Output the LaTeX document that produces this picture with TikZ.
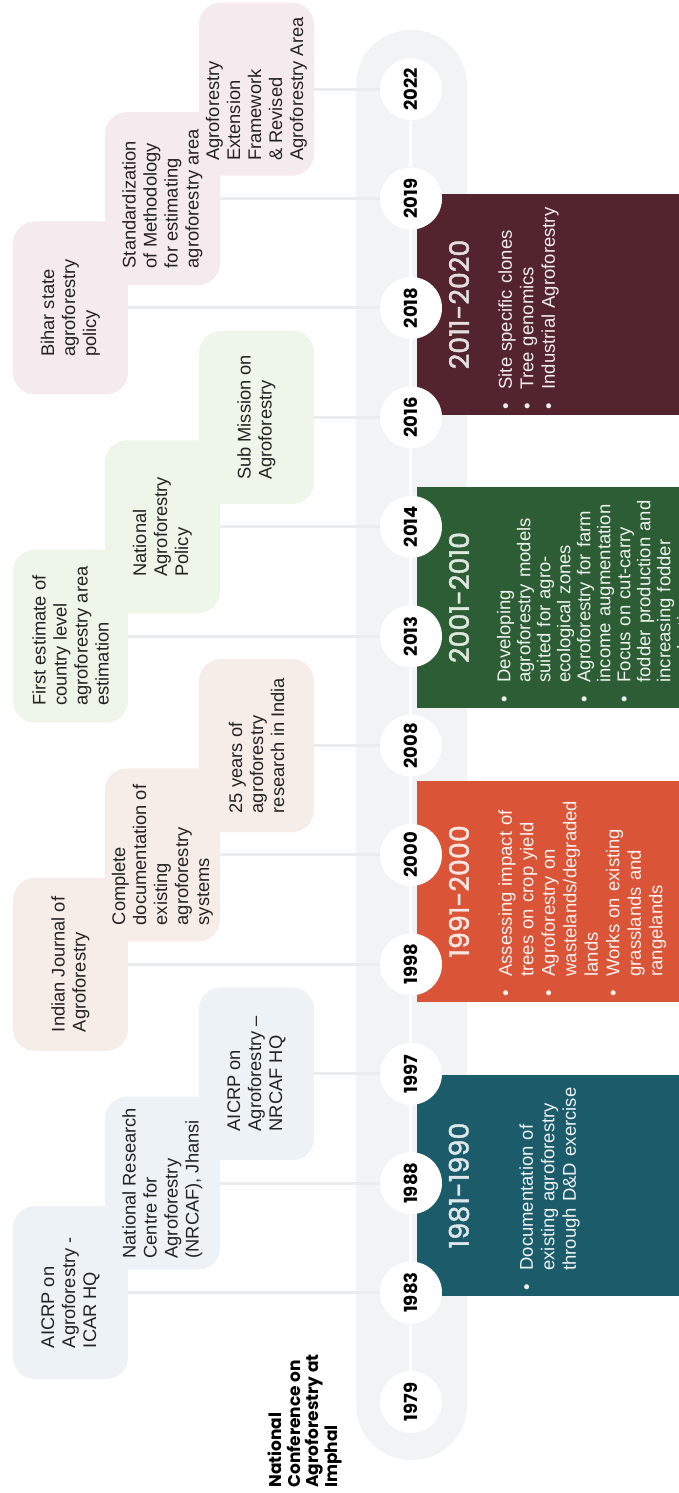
\documentclass[tikz,border=0pt]{standalone}
\usepackage{fontspec}
\setmainfont{Liberation Sans}
\newfontfamily\headfont{Poppins}
\newfontfamily\decadefont[FakeBold=1.6]{Poppins}
\usepackage{enumitem}
\usepackage{tikz}
\definecolor{trackGray}{RGB}{241, 243, 244}
\definecolor{linkGray}{RGB}{234, 236, 237}
\definecolor{inkGray}{RGB}{35, 35, 35}
\definecolor{evBlue}{RGB}{236, 242, 245}
\definecolor{evSand}{RGB}{246, 236, 232}
\definecolor{evGreen}{RGB}{238, 245, 233}
\definecolor{evRose}{RGB}{245, 235, 238}
\definecolor{perTeal}{RGB}{27, 91, 106}
\definecolor{perOrange}{RGB}{218, 84, 56}
\definecolor{perGreen}{RGB}{45, 93, 52}
\definecolor{perMaroon}{RGB}{84, 36, 46}
\newlist{plist}{itemize}{1}
\setlist[plist]{label=\textbullet, leftmargin=12.5pt, labelsep=6.9pt,
  itemsep=0pt, topsep=0pt, parsep=0pt, partopsep=0pt}
\tikzset{
  eventbox/.style={
    rectangle, rounded corners=11pt,
    minimum width=86.5pt, minimum height=57.5pt,
    inner sep=2pt, align=left,
    font=\fontsize{9.15}{10.5}\selectfont, text=inkGray
  },
  periodbox/.style={
    rectangle, anchor=south west, inner sep=0pt,
    minimum width=110.5pt, minimum height=131pt
  },
  periodtitle/.style={
    inner sep=0pt, font=\decadefont\fontsize{13.5}{16}\selectfont
  },
  periodlist/.style={
    anchor=north west, inner sep=0pt, text width=125pt, align=left,
    font=\fontsize{9.25}{10.75}\selectfont
  },
  yeardot/.style={
    circle, fill=white, minimum size=31pt, inner sep=0pt,
    font=\headfont\bfseries\fontsize{9}{10}\selectfont
  },
  link/.style={draw=linkGray, line width=1.5pt},
  spine/.style={draw=white, line width=1.5pt}
}
\begin{document}
\begin{tikzpicture}[x=0.5pt, y=0.5pt, rotate=90, transform shape]
  \useasboundingbox (0,0) rectangle (1493,679);
  \fill[white] (0,0) rectangle (1493,679);

  % timeline track
  \fill[trackGray, rounded corners=27.5pt] (33,212) rectangle (1463,323);

  % decade boxes
  \node[periodbox, fill=perTeal]   (p1981) at (197,0) {};
  \node[periodbox, fill=perOrange] (p1991) at (491,0) {};
  \node[periodbox, fill=perGreen]  (p2001) at (785,0) {};
  \node[periodbox, fill=perMaroon] (p2011) at (1078,0) {};

  \node[periodtitle, text=white!85!perTeal]   (p1981t) at (307.5,220) {1981-1990};
  \node[periodtitle, text=white!85!perOrange] (p1991t) at (601.5,220) {1991-2000};
  \node[periodtitle, text=white!85!perGreen]  (p2001t) at (895.5,220) {2001-2010};
  \node[periodtitle, text=white!85!perMaroon] (p2011t) at (1188.5,220) {2011-2020};

  \node[periodlist, text=white!92!perTeal] (p1981l) at (197,168)
    {\begin{plist}
      \item Documentation of\\existing agroforestry\\through D\&D exercise
    \end{plist}};
  \node[periodlist, text=white!92!perOrange] (p1991l) at (491,189)
    {\begin{plist}
      \item Assessing impact of\\trees on crop yield
      \item Agroforestry on\\wastelands/degraded\\lands
      \item Works on existing\\grasslands and\\rangelands
    \end{plist}};
  \node[periodlist, text=white!92!perGreen, font=\fontsize{9.25}{10}\selectfont] (p2001l) at (785,189)
    {\begin{plist}
      \item Developing\\agroforestry models\\suited for agro-\\ecological zones
      \item Agroforestry for farm\\income augmentation
      \item Focus on cut-carry\\fodder production and\\increasing fodder\\production
    \end{plist}};
  \node[periodlist, text=white!92!perMaroon] (p2011l) at (1078,189)
    {\begin{plist}
      \item Site specific clones
      \item Tree genomics
      \item Industrial Agroforestry
    \end{plist}};

  % years on the track
  \foreach \yr [count=\i from 0] in {1979,1983,1988,1997,1998,2000,2008,2013,2014,2016,2018,2019,2022}
    \node[yeardot] (y\yr) at ({91+109.4*\i},268) {\yr};
  \foreach \a/\b in {1979/1983,1983/1988,1988/1997,1997/1998,1998/2000,2000/2008,
                     2008/2013,2013/2014,2014/2016,2016/2018,2018/2019,2019/2022}
    \draw[spine] (y\a) -- (y\b);

  % opening event
  \node[inner sep=0pt, anchor=west, align=left, text=black,
        font=\headfont\bfseries\fontsize{8.5}{9.25}\selectfont] (conf) at (5,374)
    {National\\Conference on\\Agroforestry at\\Imphal};

  % event rows
  \coordinate (rowA) at (0,608.5);
  \coordinate (rowB) at (0,516.5);
  \coordinate (rowC) at (0,422.5);

  \node[eventbox, fill=evBlue] (e1983) at (y1983 |- rowA) {AICRP on\\Agroforestry -\\ICAR HQ};
  \node[eventbox, fill=evBlue] (e1988) at (y1988 |- rowB) {National Research\\Centre for\\Agroforestry\\(NRCAF), Jhansi};
  \node[eventbox, fill=evBlue] (e1997) at (y1997 |- rowC) {AICRP on\\Agroforestry \textendash\\NRCAF HQ};

  \node[eventbox, fill=evSand] (e1998) at (y1998 |- rowA) {Indian Journal of\\Agroforestry};
  \node[eventbox, fill=evSand] (e2000) at (y2000 |- rowB) {Complete\\documentation of\\existing\\agroforestry\\systems};
  \node[eventbox, fill=evSand] (e2008) at (y2008 |- rowC) {25 years of\\agroforestry\\research in India};

  \node[eventbox, fill=evGreen] (e2013) at (y2013 |- rowA) {First estimate of\\country level\\agroforestry area\\estimation};
  \node[eventbox, fill=evGreen] (e2014) at (y2014 |- rowB) {National\\Agroforestry\\Policy};
  \node[eventbox, fill=evGreen] (e2016) at (y2016 |- rowC) {Sub Mission on\\Agroforestry};

  \node[eventbox, fill=evRose] (e2018) at (y2018 |- rowA) {Bihar state\\agroforestry\\policy};
  \node[eventbox, fill=evRose] (e2019) at (y2019 |- rowB) {Standardization\\of Methodology\\for estimating\\agroforestry area};
  \node[eventbox, fill=evRose] (e2022) at (y2022 |- rowC) {Agroforestry\\Extension\\Framework\\\& Revised\\Agroforestry Area};

  % links from events to years
  \foreach \yr in {1983,1988,1997,1998,2000,2008,2013,2014,2016,2018,2019,2022}
    \draw[link] (e\yr) -- (y\yr);
\end{tikzpicture}
\end{document}
